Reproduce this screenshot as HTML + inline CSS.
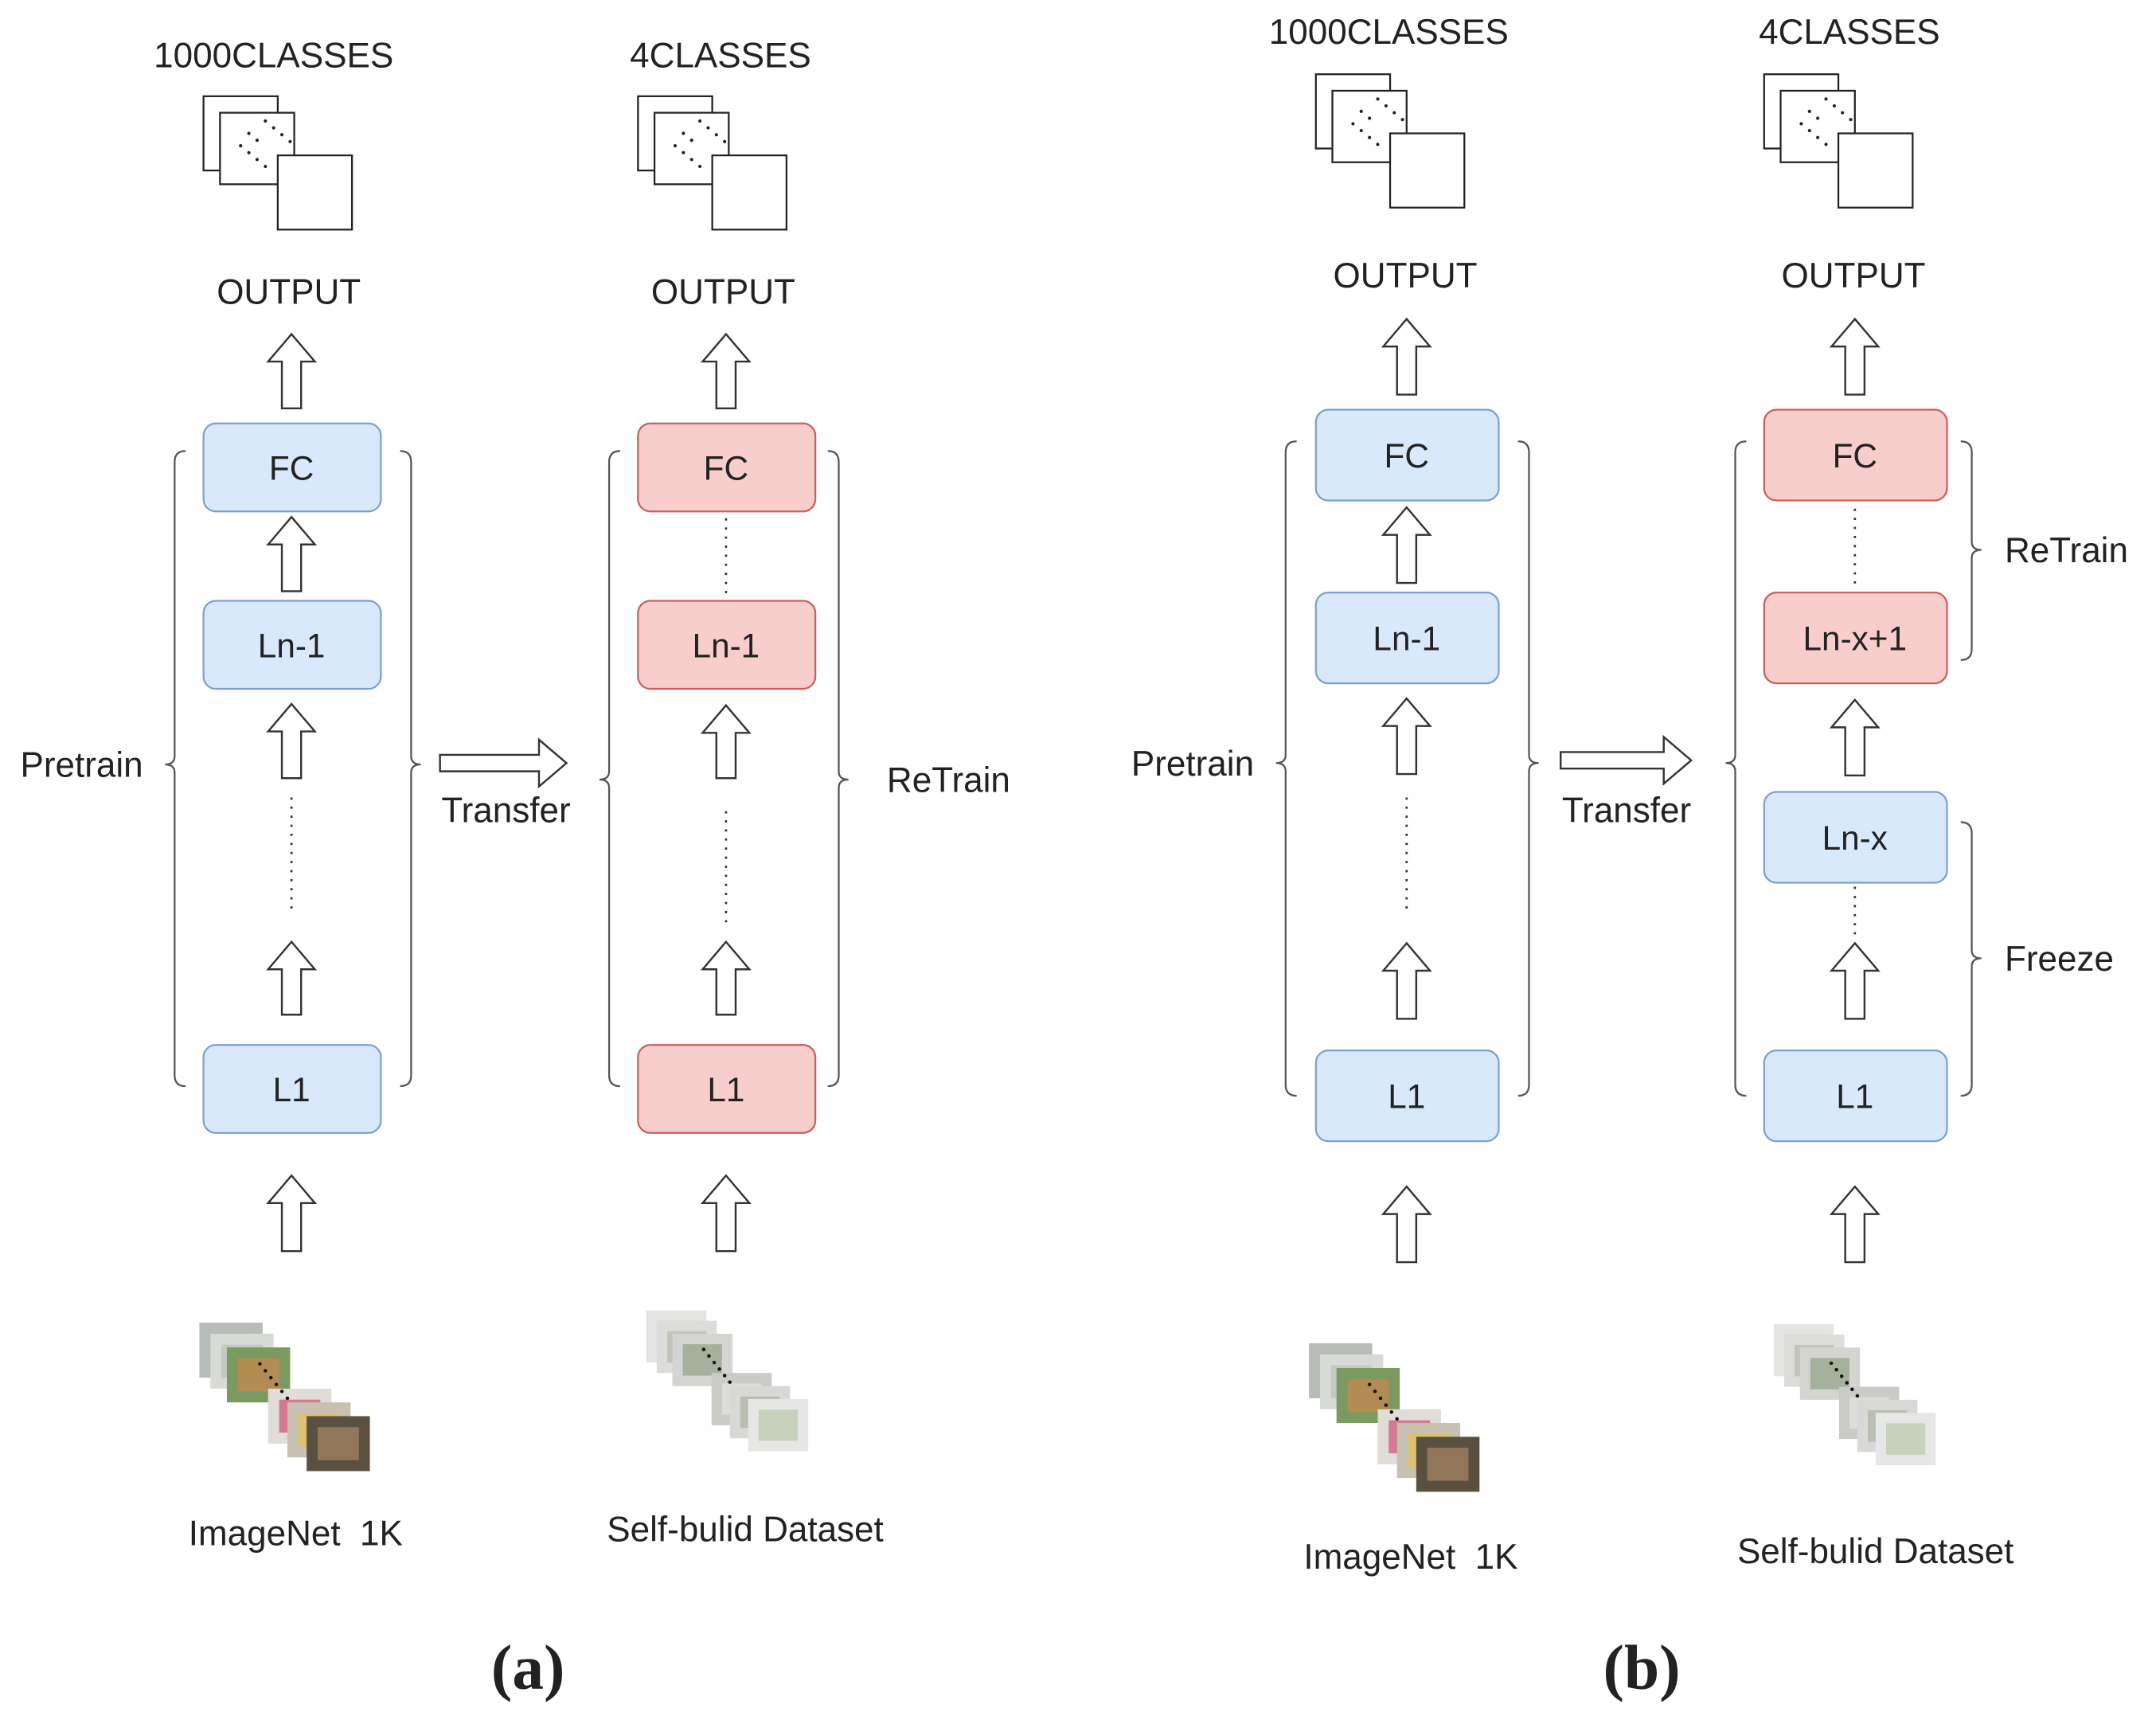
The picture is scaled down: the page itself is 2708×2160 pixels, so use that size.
<!DOCTYPE html>
<html><head><meta charset="utf-8"><style>
html,body{margin:0;padding:0;background:#fff;}
svg{display:block;}
text{font-family:"Liberation Sans",sans-serif;fill:#222;}
</style></head><body>
<svg id="s" width="2708" height="2160" viewBox="0 0 1568 1251" preserveAspectRatio="none" xmlns="http://www.w3.org/2000/svg">
<rect width="1568" height="1251" fill="#fff"/>
<g id="g"></g>
<g font-size="24.5" text-anchor="middle">
<text x="212" y="349">FC</text><text x="212" y="478">Ln-1</text><text x="212" y="801">L1</text>
<text x="528" y="349">FC</text><text x="528" y="478">Ln-1</text><text x="528" y="801">L1</text>
<text x="1023" y="340">FC</text><text x="1023" y="473">Ln-1</text><text x="1023" y="806">L1</text>
<text x="1349" y="340">FC</text><text x="1349" y="473">Ln-x+1</text><text x="1349" y="618">Ln-x</text><text x="1349" y="806">L1</text>
</g>
<g font-size="25.5" text-anchor="middle">
<text x="199" y="49">1000CLASSES</text><text x="524" y="49">4CLASSES</text>
<text x="210" y="221">OUTPUT</text><text x="526" y="221">OUTPUT</text>
<text x="1010" y="32">1000CLASSES</text><text x="1345" y="32">4CLASSES</text>
<text x="1022" y="209">OUTPUT</text><text x="1348" y="209">OUTPUT</text>
<text x="215" y="1124">ImageNet &#160;1K</text><text x="542" y="1121">Self-bulid Dataset</text>
<text x="1026" y="1141">ImageNet &#160;1K</text><text x="1364" y="1137">Self-bulid Dataset</text>
</g>
<g font-size="25.5">
<text x="104" y="565" text-anchor="end">Pretrain</text>
<text x="321" y="598">Transfer</text>
<text x="645" y="576">ReTrain</text>
<text x="912" y="564" text-anchor="end">Pretrain</text>
<text x="1136" y="598">Transfer</text>
<text x="1458" y="409">ReTrain</text>
<text x="1458" y="706">Freeze</text>
</g>
<g font-size="46" font-weight="bold" text-anchor="middle">
<text x="384" y="1228" style="font-family:'Liberation Serif',serif">(a)</text>
<text x="1194" y="1228" style="font-family:'Liberation Serif',serif">(b)</text>
</g>
</svg>
<script>
var NS="http://www.w3.org/2000/svg",g=document.getElementById("g");
function el(t,a){var e=document.createElementNS(NS,t);for(var k in a)e.setAttribute(k,a[k]);g.appendChild(e);return e;}
var BL=["#dae8fc","#7e9fcf"],RD=["#f8cecc","#c8605d"];
function box(x,y,w,h,c){el("rect",{x:x,y:y,width:w,height:h,rx:9,fill:c[0],stroke:c[1],"stroke-width":1.3});}
function arr(cx,y1,y2){el("path",{d:"M"+cx+","+y1+" L"+(cx+17)+","+(y1+20)+" L"+(cx+7)+","+(y1+20)+" L"+(cx+7)+","+y2+" L"+(cx-7)+","+y2+" L"+(cx-7)+","+(y1+20)+" L"+(cx-17)+","+(y1+20)+"Z",fill:"#fff",stroke:"#333","stroke-width":1.4});}
function dots(cx,y1,y2){el("line",{x1:cx,y1:y1,x2:cx,y2:y2,stroke:"#333","stroke-width":1.6,"stroke-dasharray":"1.6 5"});}
function brL(x,t,m,b){el("path",{d:"M"+(x+8)+","+t+" Q"+x+","+t+" "+x+","+(t+8)+" L"+x+","+(m-6)+" Q"+x+","+m+" "+(x-7)+","+m+" Q"+x+","+m+" "+x+","+(m+6)+" L"+x+","+(b-8)+" Q"+x+","+b+" "+(x+8)+","+b,fill:"none",stroke:"#555","stroke-width":1.3});}
function brR(x,t,m,b){el("path",{d:"M"+(x-8)+","+t+" Q"+x+","+t+" "+x+","+(t+8)+" L"+x+","+(m-6)+" Q"+x+","+m+" "+(x+7)+","+m+" Q"+x+","+m+" "+x+","+(m+6)+" L"+x+","+(b-8)+" Q"+x+","+b+" "+(x-8)+","+b,fill:"none",stroke:"#555","stroke-width":1.3});}
function icon(x,y){
 el("rect",{x:x,y:y,width:54,height:54,fill:"#fff",stroke:"#222","stroke-width":1.3});
 el("rect",{x:x+12,y:y+12,width:54,height:52,fill:"#fff",stroke:"#222","stroke-width":1.3});
 var p=[[45,18],[51,23],[33,27],[39,32],[27,36],[33,41],[39,46],[45,51],[57,28],[63,33]];
 p.forEach(function(q){el("circle",{cx:x+q[0],cy:y+q[1],r:1.2,fill:"#222"});});
 el("rect",{x:x+54,y:y+43,width:54,height:54,fill:"#fff",stroke:"#222","stroke-width":1.3});
}
function tarrow(x1,x2,y){el("path",{d:"M"+x1+","+(y-6)+" L"+(x2-20)+","+(y-6)+" L"+(x2-20)+","+(y-17)+" L"+x2+","+y+" L"+(x2-20)+","+(y+17)+" L"+(x2-20)+","+(y+6)+" L"+x1+","+(y+6)+"Z",fill:"#fff",stroke:"#333","stroke-width":1.4});}
function imgs(x,y,cols,sc){
 cols.forEach(function(c,i){
  var dx=x+[0,8,20,50,64,78][i]*sc,dy=y+[0,8,18,48,58,68][i]*sc;
  el("rect",{x:dx,y:dy,width:46*sc,height:40*sc,fill:c[0]});
  el("rect",{x:dx+8*sc,y:dy+8*sc,width:30*sc,height:24*sc,fill:c[1],opacity:0.8});
 });
 for(var k=0;k<6;k++)el("circle",{cx:x+(44+k*4)*sc,cy:y+(30+k*5)*sc,r:1.3,fill:"#111"});
}
icon(148,70);icon(464,70);
arr(212,243,297);box(148,308,129,64,BL);arr(212,376,430);box(148,437,129,64,BL);arr(212,512,566);dots(212,580,662);arr(212,685,738);box(148,760,129,64,BL);arr(212,855,910);
brL(127,328,556,790);brR(299,328,556,790);
tarrow(320,412,555);
arr(528,243,297);box(464,308,129,64,RD);dots(528,377,432);box(464,437,129,64,RD);arr(528,513,566);dots(528,590,672);arr(528,685,738);box(464,760,129,64,RD);arr(528,855,910);
brL(443,328,567,790);brR(610,328,567,790);
icon(957,54);icon(1283,54);
arr(1023,232,287);box(957,298,133,66,BL);arr(1023,369,424);box(957,431,133,66,BL);arr(1023,508,563);dots(1023,580,665);arr(1023,686,741);box(957,764,133,66,BL);arr(1023,863,918);
brL(935,321,555,797);brR(1112,321,555,797);
tarrow(1135,1230,553);
arr(1349,232,287);box(1283,298,133,66,RD);dots(1349,370,425);box(1283,431,133,66,RD);arr(1349,509,564);box(1283,576,133,66,BL);dots(1349,645,680);arr(1349,686,741);box(1283,764,133,66,BL);arr(1349,863,918);
brL(1262,321,555,797);brR(1434,321,400,480);brR(1434,598,697,797);
var IN=[["#b8bcb8","#8a948a"],["#d8dad6","#c0c4bc"],["#7a9a60","#c08850"],["#e0dcd8","#d06080"],["#c8c0b0","#e0c060"],["#5a5040","#a08060"]];
var SB=[["#e4e4e2","#c8d0c0"],["#dcdcda","#b8c0b0"],["#d4d4d0","#9aa890"],["#cacac6","#e0e0dc"],["#d8d8d6","#b0b8a8"],["#e6e6e4","#c0ccb4"]];
imgs(145,962,IN,1.0);imgs(470,953,SB,0.95);imgs(952,977,IN,1.0);imgs(1290,963,SB,0.95);
</script>
</body></html>
